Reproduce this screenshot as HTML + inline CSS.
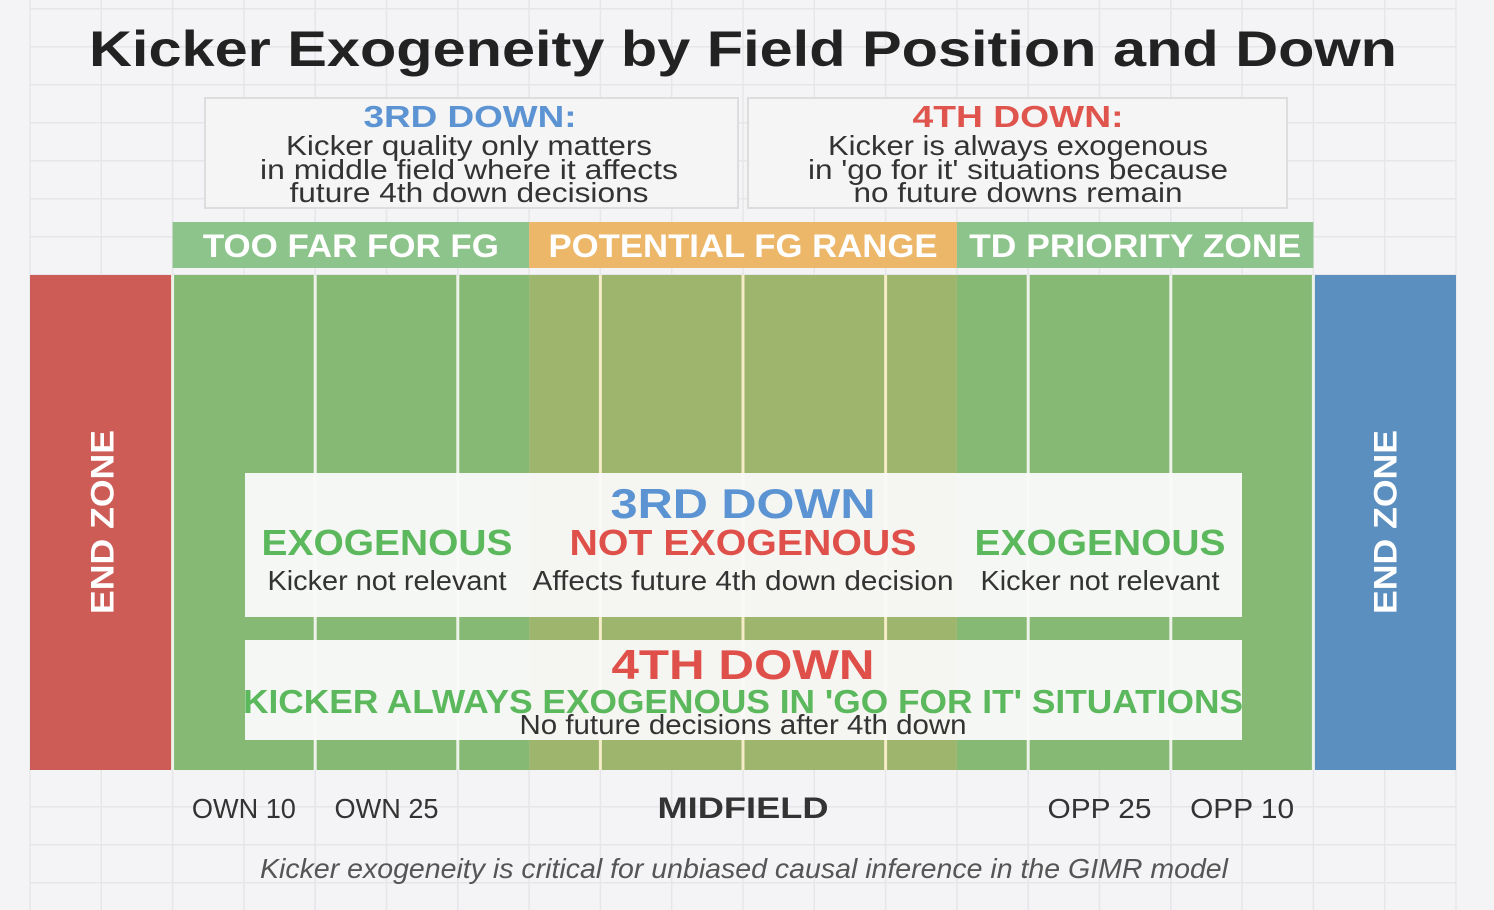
<!DOCTYPE html>
<html><head><meta charset="utf-8"><style>
html,body{margin:0;padding:0;background:#f4f4f6;}
svg{display:block;font-family:"Liberation Sans",sans-serif;}
</style></head><body>
<svg id="c" width="1494" height="910" viewBox="0 0 1494 910">
<rect x="0" y="0" width="1494" height="910" fill="#f4f4f6"/>
<g id="grid"></g>
<text x="743" y="66" text-anchor="middle" font-size="50" font-weight="bold" fill="#222" textLength="1308" lengthAdjust="spacingAndGlyphs">Kicker Exogeneity by Field Position and Down</text>
<g id="top-boxes">
<rect x="205" y="98" width="533" height="110" fill="#f5f5f5" stroke="#ddd" stroke-width="2"/>
<text x="470" y="127" text-anchor="middle" font-size="31" font-weight="bold" fill="#5b93d3" textLength="213" lengthAdjust="spacingAndGlyphs">3RD DOWN:</text>
<text x="469" y="155" text-anchor="middle" font-size="28" fill="#333" textLength="366" lengthAdjust="spacingAndGlyphs">Kicker quality only matters</text>
<text x="469" y="179" text-anchor="middle" font-size="28" fill="#333" textLength="418" lengthAdjust="spacingAndGlyphs">in middle field where it affects</text>
<text x="469" y="202" text-anchor="middle" font-size="28" fill="#333" textLength="359" lengthAdjust="spacingAndGlyphs">future 4th down decisions</text>
<rect x="748" y="98" width="539" height="110" fill="#f5f5f5" stroke="#ddd" stroke-width="2"/>
<text x="1018" y="127" text-anchor="middle" font-size="31" font-weight="bold" fill="#e0544e" textLength="211" lengthAdjust="spacingAndGlyphs">4TH DOWN:</text>
<text x="1018" y="155" text-anchor="middle" font-size="28" fill="#333" textLength="380" lengthAdjust="spacingAndGlyphs">Kicker is always exogenous</text>
<text x="1018" y="179" text-anchor="middle" font-size="28" fill="#333" textLength="420" lengthAdjust="spacingAndGlyphs">in 'go for it' situations because</text>
<text x="1018" y="202" text-anchor="middle" font-size="28" fill="#333" textLength="329" lengthAdjust="spacingAndGlyphs">no future downs remain</text>
</g>
<g id="field"></g>
<g id="boxes">
<rect x="245" y="473" width="997" height="144" fill="#fafafa" fill-opacity="0.95"/>
<text x="743" y="518" text-anchor="middle" font-size="42" font-weight="bold" fill="#5b93d3" textLength="265" lengthAdjust="spacingAndGlyphs">3RD DOWN</text>
<text x="387" y="555" text-anchor="middle" font-size="36" font-weight="bold" fill="#5cb85c" textLength="251" lengthAdjust="spacingAndGlyphs">EXOGENOUS</text>
<text x="743" y="555" text-anchor="middle" font-size="36" font-weight="bold" fill="#e0504a" textLength="347" lengthAdjust="spacingAndGlyphs">NOT EXOGENOUS</text>
<text x="1100" y="555" text-anchor="middle" font-size="36" font-weight="bold" fill="#5cb85c" textLength="251" lengthAdjust="spacingAndGlyphs">EXOGENOUS</text>
<text x="387" y="590" text-anchor="middle" font-size="28" fill="#333" textLength="239" lengthAdjust="spacingAndGlyphs">Kicker not relevant</text>
<text x="743" y="590" text-anchor="middle" font-size="28" fill="#333" textLength="421" lengthAdjust="spacingAndGlyphs">Affects future 4th down decision</text>
<text x="1100" y="590" text-anchor="middle" font-size="28" fill="#333" textLength="239" lengthAdjust="spacingAndGlyphs">Kicker not relevant</text>
<rect x="245" y="640" width="997" height="100" fill="#fafafa" fill-opacity="0.95"/>
<text x="743" y="679" text-anchor="middle" font-size="42" font-weight="bold" fill="#e0504a" textLength="263" lengthAdjust="spacingAndGlyphs">4TH DOWN</text>
<text x="743" y="713" text-anchor="middle" font-size="33" font-weight="bold" fill="#5cb85c" textLength="1000" lengthAdjust="spacingAndGlyphs">KICKER ALWAYS EXOGENOUS IN 'GO FOR IT' SITUATIONS</text>
<text x="743" y="734" text-anchor="middle" font-size="28" fill="#333" textLength="447" lengthAdjust="spacingAndGlyphs">No future decisions after 4th down</text>
</g>
<g id="labels"></g>
<text x="744" y="878" text-anchor="middle" font-size="28" font-style="italic" fill="#555" textLength="968" lengthAdjust="spacingAndGlyphs">Kicker exogeneity is critical for unbiased causal inference in the GIMR model</text>
</svg>
<script>
const zoneNames = ["TOO FAR FOR FG", "POTENTIAL FG RANGE", "TD PRIORITY ZONE"];
const zoneStarts = [1, 3.5, 6.5];
const zoneEnds = [3.5, 6.5, 9];
const yardLines = [2, 3, 4, 5, 6, 7, 8];
const tickLabels = ["OWN 10", "OWN 25", "MIDFIELD", "OPP 25", "OPP 10"];
const tickPositions = [1.5, 2.5, 5, 7.5, 8.5];

const NS = "http://www.w3.org/2000/svg";
const X0 = 30, UNIT = 142.6;
function x(u){ return X0 + u*UNIT; }
const FY0 = 275, FY1 = 770;
const zoneLabelWidths = [296, 389, 332];
function mk(tag, attrs, parent){ const e=document.createElementNS(NS,tag); for(const k in attrs) e.setAttribute(k,attrs[k]); parent.appendChild(e); return e; }

const grid = document.getElementById('grid');
for(let u=0; u<=10.001; u+=0.5){
  const l = mk('line',{x1:x(u),x2:x(u),y1:0,y2:910,stroke:'#e6e6e9','stroke-width':1.5},grid);
  
  
}
for(let y=8.7; y<910; y+=38){
  const l = mk('line',{x1:x(0),x2:x(10),y1:y,y2:y,stroke:'#e6e6e9','stroke-width':1.5},grid);
  
  
}

const field = document.getElementById('field');
const fieldColors = ["#86b973", "#9db56c", "#86b973"];
const headColors = ["#8cc48b", "#edb76a", "#8cc48b"];
const lineColors = ["#eef3ea", "#f5ecc8", "#eef3ea"];
let ez = mk('rect',{x:x(0),y:FY0,width:x(1)-x(0),height:FY1-FY0,fill:'#cd5c57'},field);


ez = mk('rect',{x:x(9),y:FY0,width:x(10)-x(9),height:FY1-FY0,fill:'#5b8fbf'},field);


zoneNames.forEach((n,i)=>{
  const r = mk('rect',{x:x(zoneStarts[i]),y:FY0,width:x(zoneEnds[i])-x(zoneStarts[i]),height:FY1-FY0,fill:fieldColors[i]},field);
  
  
  const h = mk('rect',{x:x(zoneStarts[i]),y:222,width:x(zoneEnds[i])-x(zoneStarts[i]),height:46,fill:headColors[i]},field);
  
  
  const t = mk('text',{x:(x(zoneStarts[i])+x(zoneEnds[i]))/2,y:257,'text-anchor':'middle','font-size':32,'font-weight':'bold',fill:'#fff',textLength:zoneLabelWidths[i],lengthAdjust:'spacingAndGlyphs'},field);
  t.textContent = n;
  
  
});
[1,9].concat(yardLines).forEach(u=>{
  let c = '#eef3ea';
  zoneNames.forEach((n,i)=>{ if(u>zoneStarts[i] && u<zoneEnds[i]) c=lineColors[i]; });
  const l = mk('line',{x1:x(u),x2:x(u),y1:FY0,y2:FY1,stroke:c,'stroke-width':3},field);
  
  
});
[[0.5,'left-end-zone-label'],[9.5,'right-end-zone-label']].forEach(([u,nm])=>{
  const t = mk('text',{x:0,y:0,'text-anchor':'middle','font-size':32,'font-weight':'bold',fill:'#fff',textLength:184,lengthAdjust:'spacingAndGlyphs',transform:`translate(${x(u)+12},522) rotate(-90)`},field);
  t.textContent='END ZONE';
  
  
});

const labels = document.getElementById('labels');
tickLabels.forEach((s,i)=>{
  const bold = s==='MIDFIELD';
  const t = mk('text',{x:x(tickPositions[i]),y:818,'text-anchor':'middle','font-size':bold?30:28,'font-weight':bold?'bold':'normal',fill:'#333',textLength:bold?171:104,lengthAdjust:'spacingAndGlyphs'},labels);
  t.textContent = s;
  
  
});
</script>
</body></html>
